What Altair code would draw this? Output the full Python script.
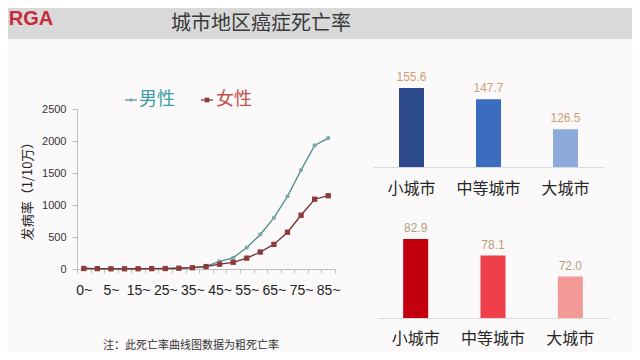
import json
import altair as alt
import pandas as pd

# ---------------- data ----------------
ages = ["0~", "1~", "5~", "10~", "15~", "20~", "25~", "30~", "35~", "40~",
        "45~", "50~", "55~", "60~", "65~", "70~", "75~", "80~", "85~"]
male = [8, 6, 4, 4, 5, 7, 8, 12, 20, 42, 120, 175, 335, 540, 800, 1135, 1545, 1930, 2045]
female = [8, 6, 3, 3, 4, 6, 7, 12, 20, 38, 75, 105, 170, 265, 385, 575, 840, 1090, 1145]
shown_age_labels = ["0~", "5~", "15~", "25~", "35~", "45~", "55~", "65~", "75~", "85~"]
y_ticks = [0, 500, 1000, 1500, 2000, 2500]
sexes = ["男性", "女性"]

cities = ["小城市", "中等城市", "大城市"]
male_city = [155.6, 147.7, 126.5]
female_city = [82.9, 78.1, 72.0]
male_base = 100
female_base = 60

title_text = "城市地区癌症死亡率"
logo_text = "RGA"
y_title = "发病率（1/10万）"
note_text = "注：此死亡率曲线图数据为粗死亡率"

# ---------------- style ----------------
W, H = 624, 344
CJK = "Noto Sans CJK SC"
LAT = "Liberation Sans"
teal_line, red_line = "#4A8E8E", "#742C2C"
teal_mark, red_mark = "#7AAAAA", "#8C3A3A"
teal_text, red_text = "#3A9EA3", "#C4504C"

dummy = pd.DataFrame({"a": [0]})

def txt(text, x, y, **kw):
    return alt.Chart(dummy).mark_text(text=text, **kw).encode(
        x=alt.value(x), y=alt.value(y))

header = alt.Chart(dummy).mark_rect(color="#D9D9D9").encode(
    x=alt.value(0), x2=alt.value(W), y=alt.value(0), y2=alt.value(31))

title = txt(title_text, 253, 16, font=CJK, fontSize=20, color="#3A3A3A",
            align="center", baseline="middle")
logo = txt(logo_text, 23, 11, font=LAT, fontSize=20, fontWeight="bold",
           color="#C62B3A", align="center", baseline="middle")
note = txt(note_text, 183, 338, font=CJK, fontSize=11, color="#333333",
           align="center", baseline="middle")
ytitle = txt(y_title, 20, 180, font=CJK, fontSize=13, color="#222222",
             align="center", baseline="middle", angle=270)

# ---------------- line chart ----------------
line_df = pd.DataFrame({
    "age": ages * 2,
    "rate": male + female,
    "sex": [sexes[0]] * len(ages) + [sexes[1]] * len(ages),
})

label_expr = "indexof(" + json.dumps(shown_age_labels, ensure_ascii=False) + \
    ", datum.value) >= 0 ? datum.label : ''"

lx = alt.X("age:N", sort=ages,
           scale=alt.Scale(type="band", domain=ages, range=[69, 327],
                           paddingInner=0, paddingOuter=0),
           axis=alt.Axis(orient="bottom", offset=261 - H, title=None,
                         tickBand="extent", labelExpr=label_expr,
                         labelOverlap=False, labelAngle=0,
                         labelFont=LAT, labelFontSize=14, labelColor="#222222",
                         labelBaseline="middle", labelPadding=17,
                         domainColor="#BFBFBF", tickColor="#BFBFBF",
                         tickSize=4, grid=False))
ly = alt.Y("rate:Q",
           scale=alt.Scale(domain=[0, 2500], range=[261, 101], nice=False),
           axis=alt.Axis(orient="left", offset=-69, title=None, values=y_ticks,
                         format="d",
                         labelFont=LAT, labelFontSize=11, labelColor="#333333",
                         labelPadding=6, tickSize=5, domainColor="#BFBFBF",
                         tickColor="#BFBFBF", grid=False))

lines = alt.Chart(line_df).mark_line(strokeWidth=1.3).encode(
    x=lx, y=ly,
    stroke=alt.Stroke("sex:N", scale=alt.Scale(domain=sexes, range=[teal_line, red_line]),
                      legend=None),
    detail="sex:N")
points = alt.Chart(line_df).mark_point(filled=True, opacity=1, strokeWidth=0).encode(
    x=lx, y=ly,
    fill=alt.Fill("sex:N", scale=alt.Scale(domain=sexes, range=[teal_mark, red_mark]),
                  legend=None),
    shape=alt.Shape("sex:N", scale=alt.Scale(domain=sexes, range=["circle", "square"]),
                    legend=None),
    size=alt.Size("sex:N", scale=alt.Scale(domain=sexes, range=[18, 28]), legend=None))
line_layer = alt.layer(lines, points)

# manual legend
leg = alt.layer(
    alt.Chart(dummy).mark_rule(color=teal_line, strokeWidth=1.2).encode(
        x=alt.value(117), x2=alt.value(129), y=alt.value(92)),
    alt.Chart(dummy).mark_point(shape="circle", filled=True, size=14, color=teal_mark,
                                opacity=1).encode(x=alt.value(123), y=alt.value(92)),
    txt(sexes[0], 131, 92, font=CJK, fontSize=18, color=teal_text,
        align="left", baseline="middle"),
    alt.Chart(dummy).mark_rule(color=red_line, strokeWidth=1.2).encode(
        x=alt.value(193), x2=alt.value(205), y=alt.value(92)),
    alt.Chart(dummy).mark_point(shape="square", filled=True, size=22, color=red_mark,
                                opacity=1).encode(x=alt.value(199), y=alt.value(92)),
    txt(sexes[1], 208, 92, font=CJK, fontSize=18, color=red_text,
        align="left", baseline="middle"),
)

# ---------------- bar charts ----------------
def bar_panel(values, base, top, y0, px_per_unit, xr, colors, label_color, pad):
    df = pd.DataFrame({"city": cities, "v": values})
    bx = alt.X("city:N", sort=cities,
               scale=alt.Scale(domain=cities, range=xr, paddingInner=0, paddingOuter=0),
               axis=alt.Axis(orient="bottom", offset=y0 - H, title=None, labelAngle=0,
                             labelFont=CJK, labelFontSize=16, labelColor="#262626",
                             labelBaseline="middle", labelPadding=pad,
                             ticks=False, tickSize=0, domainColor="#D9D9D9",
                             domainWidth=1.2, grid=False))
    by = alt.Y("v:Q", scale=alt.Scale(domain=[base, top], zero=False, nice=False,
                                      range=[y0, y0 - (top - base) * px_per_unit]),
               axis=None)
    bars = alt.Chart(df).mark_bar(size=25).encode(
        x=bx, y=by, y2=alt.datum(base),
        color=alt.Color("city:N", scale=alt.Scale(domain=cities, range=colors),
                        legend=None))
    labels = alt.Chart(df).mark_text(dy=-11, font=LAT, fontSize=12, color=label_color,
                                     baseline="middle").encode(
        x=bx, y=by, text=alt.Text("v:Q", format=".1f"))
    return alt.layer(bars, labels)

top_panel = bar_panel(male_city, male_base, 160, 159, 1.42, [365, 596],
                      ["#2C4A8C", "#3A6CBF", "#8EAADA"], "#CFA072", 21)
bottom_panel = bar_panel(female_city, female_base, 85, 310, 3.45, [369, 601],
                         ["#C2000E", "#EE3F4B", "#F39A98"], "#B59D7C", 20)

chart = alt.layer(
    header, title, logo, line_layer, leg, ytitle, note, top_panel, bottom_panel
).resolve_scale(
    x="independent", y="independent", color="independent"
).properties(
    width=W, height=H, padding=0, autosize=alt.AutoSizeParams(type="none"),
    background="#FCF9FA"
).configure_view(stroke=None)

chart.save("out.html", embed_options={"renderer": "svg", "actions": False})
